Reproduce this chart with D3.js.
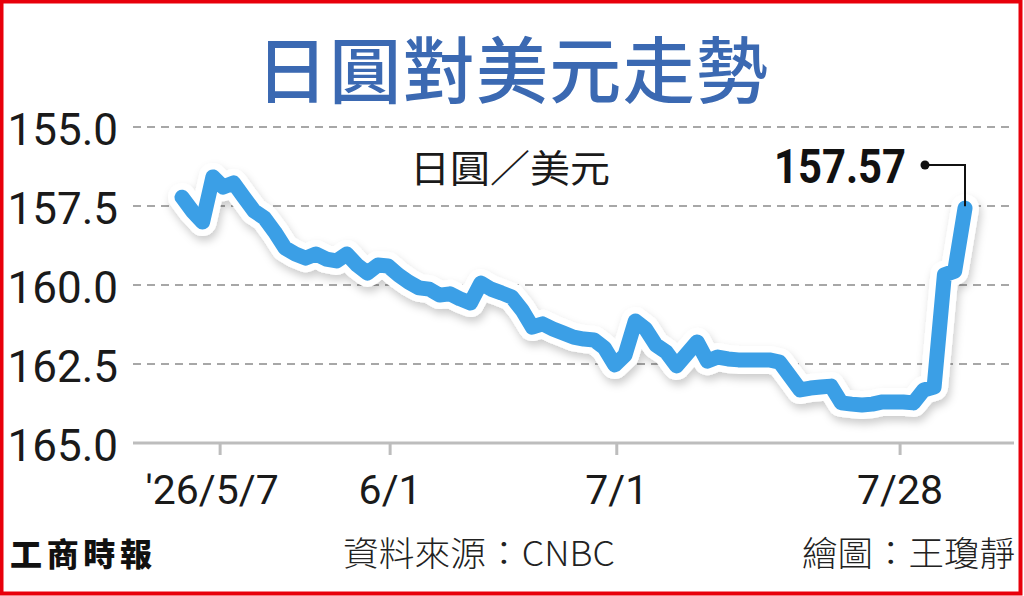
<!DOCTYPE html>
<html>
<head>
<meta charset="utf-8">
<script src="https://cdn.jsdelivr.net/npm/d3@7"></script>
<style>
  body { margin: 0; background: #fff; }
  svg { display: block; }
</style>
</head>
<body>
<div id="chart"></div>
<script>
// JPY per USD, trading-day series (axis is inverted: weaker yen lower)
const yenPerUsd = [
  157.22, 157.66, 158.01, 156.58, 156.90, 156.77, 157.22, 157.66, 157.88, 158.32,
  158.83, 159.02, 159.15, 159.02, 159.18, 159.24, 159.02, 159.37, 159.62, 159.37,
  159.40, 159.68, 159.91, 160.09, 160.13, 160.32, 160.28, 160.44, 160.57, 159.94,
  160.13, 160.25, 160.38, 160.79, 161.33, 161.23, 161.39, 161.52, 161.65, 161.71,
  161.74, 161.99, 162.53, 162.22, 161.14, 161.39, 161.90, 162.12, 162.56, 162.18,
  161.80, 162.41, 162.28, 162.34, 162.37, 162.37, 162.37, 162.37, 162.44, 162.88,
  163.32, 163.26, 163.23, 163.20, 163.73, 163.77, 163.80, 163.77, 163.70, 163.70,
  163.70, 163.73, 163.32, 163.23, 159.68, 159.56, 157.57
];
const xTickLabels = ["'26/5/7", "6/1", "7/1", "7/28"];
const xTickIndex = [3.7, 20.2, 42.2, 69.7];
const yTicks = [155, 157.5, 160, 162.5, 165];

const title = "日圓對美元走勢";
const unitLabel = "日圓／美元";
const lastLabel = "157.57";
const sourceText = "資料來源：CNBC";
const creditText = "繪圖：王瓊靜";
const brandText = "工商時報";

const width = 1024, height = 596;
const cjk = "'Noto Sans CJK TC', 'Noto Sans CJK SC', sans-serif";
const latin = "Roboto, 'Noto Sans', sans-serif";

const svg = d3.select('#chart').append('svg')
    .attr('width', width)
    .attr('height', height)
    .attr('viewBox', [0, 0, width, height]);

// soft shadow under the white halo of the line
const defs = svg.append('defs');
const f = defs.append('filter').attr('id', 'shadow')
    .attr('x', '-10%').attr('y', '-10%').attr('width', '120%').attr('height', '130%');
f.append('feDropShadow')
    .attr('dx', 2).attr('dy', 5).attr('stdDeviation', 4)
    .attr('flood-color', '#000').attr('flood-opacity', 0.2);

svg.append('rect').attr('width', width).attr('height', height).attr('fill', '#fff');

const x = d3.scaleLinear().domain([0, yenPerUsd.length - 1]).range([182, 965]);
const y = d3.scaleLinear().domain([155, 165]).range([127, 443]);

// title
svg.append('text')
    .attr('x', 512).attr('y', 97)
    .attr('text-anchor', 'middle')
    .attr('textLength', 512)
    .style('font-family', cjk)
    .style('font-size', '72px')
    .style('font-weight', 500)
    .style('fill', '#3b69b2')
    .text(title);

// dashed grid
svg.append('g')
    .selectAll('line')
    .data(yTicks.slice(0, -1))
    .join('line')
    .attr('x1', 133).attr('x2', 1012)
    .attr('y1', d => y(d)).attr('y2', d => y(d))
    .attr('stroke', '#8a8a8a')
    .attr('stroke-width', 1.3)
    .attr('stroke-dasharray', '8,6');

// y labels
svg.append('g')
    .selectAll('text')
    .data(yTicks)
    .join('text')
    .attr('x', 118)
    .attr('y', d => y(d))
    .attr('dy', '0.4em')
    .attr('text-anchor', 'end')
    .style('font-family', latin)
    .style('font-size', '44px')
    .style('fill', '#1a1a1a')
    .text(d => d.toFixed(1));

// x axis base + ticks
svg.append('line')
    .attr('x1', 133).attr('x2', 1014)
    .attr('y1', y(165)).attr('y2', y(165))
    .attr('stroke', '#bdbdbd').attr('stroke-width', 3);

const xt = svg.append('g')
    .selectAll('g')
    .data(xTickIndex)
    .join('g')
    .attr('transform', d => `translate(${x(d)},${y(165)})`);

xt.append('line')
    .attr('y1', 0).attr('y2', 12)
    .attr('stroke', '#bdbdbd').attr('stroke-width', 3);

xt.append('text')
    .attr('y', 61)
    .attr('dx', (d, i) => i === 0 ? -8 : 0)
    .attr('text-anchor', 'middle')
    .style('font-family', latin)
    .style('font-size', '41px')
    .style('fill', '#1a1a1a')
    .text((d, i) => xTickLabels[i]);

// unit label
svg.append('text')
    .attr('x', 410).attr('y', 182)
    .attr('textLength', 200)
    .attr('lengthAdjust', 'spacingAndGlyphs')
    .style('font-family', cjk)
    .style('font-size', '38px')
    .style('fill', '#1a1a1a')
    .text(unitLabel);

// the line: shadowed white halo, then blue stroke
const line = d3.line()
    .x((d, i) => x(i))
    .y(d => y(d));

svg.append('path')
    .datum(yenPerUsd)
    .attr('d', line)
    .attr('fill', 'none')
    .attr('stroke', '#fff')
    .attr('stroke-width', 28)
    .attr('stroke-linejoin', 'round')
    .attr('stroke-linecap', 'round')
    .attr('filter', 'url(#shadow)');

svg.append('path')
    .datum(yenPerUsd)
    .attr('d', line)
    .attr('fill', 'none')
    .attr('stroke', '#3b9fe6')
    .attr('stroke-width', 15)
    .attr('stroke-linejoin', 'round')
    .attr('stroke-linecap', 'round');

// callout for the last value
const lastI = yenPerUsd.length - 1;
const ex = x(lastI), ey = y(yenPerUsd[lastI]);
const calloutY = 165;
svg.append('path')
    .attr('d', `M${ex - 40},${calloutY}H${ex}V${ey - 2}`)
    .attr('fill', 'none')
    .attr('stroke', '#111')
    .attr('stroke-width', 2);
svg.append('circle')
    .attr('cx', ex - 40).attr('cy', calloutY).attr('r', 4.5)
    .attr('fill', '#111');
svg.append('text')
    .attr('x', ex - 59).attr('y', calloutY + 18)
    .attr('text-anchor', 'end')
    .attr('textLength', 132)
    .attr('lengthAdjust', 'spacingAndGlyphs')
    .style('font-family', latin)
    .style('font-size', '48px')
    .style('font-weight', 700)
    .style('fill', '#111')
    .text(lastLabel);

// footer
svg.append('text')
    .attr('x', 10).attr('y', 566)
    .attr('textLength', 142)
    .style('font-family', cjk)
    .style('font-size', '32px')
    .style('font-weight', 900)
    .style('fill', '#111')
    .text(brandText);

svg.append('text')
    .attr('x', 479).attr('y', 566)
    .attr('text-anchor', 'middle')
    .attr('textLength', 272)
    .attr('lengthAdjust', 'spacingAndGlyphs')
    .style('font-family', cjk)
    .style('font-size', '34px')
    .style('font-weight', 300)
    .style('fill', '#222')
    .text(sourceText);

svg.append('text')
    .attr('x', 1015).attr('y', 566)
    .attr('text-anchor', 'end')
    .attr('textLength', 213)
    .attr('lengthAdjust', 'spacingAndGlyphs')
    .style('font-family', cjk)
    .style('font-size', '34px')
    .style('font-weight', 300)
    .style('fill', '#222')
    .text(creditText);

// red frame
svg.append('rect')
    .attr('x', 1.5).attr('y', 1.5)
    .attr('width', 1019).attr('height', 592)
    .attr('fill', 'none')
    .attr('stroke', '#e8000b')
    .attr('stroke-width', 4);
</script>
</body>
</html>
